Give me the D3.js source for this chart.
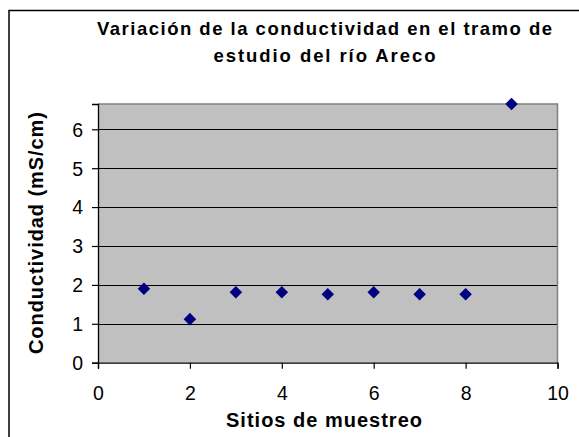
<!DOCTYPE html>
<html><head><meta charset="utf-8">
<script src="https://cdn.jsdelivr.net/npm/d3@7"></script>
<style>body{margin:0;background:#fff}svg{display:block}</style>
</head><body>
<script>
const sites = [1,2,3,4,5,6,7,8,9];
const conductivity = [1.90,1.12,1.81,1.81,1.76,1.81,1.76,1.76,6.65];
const xTicks = [0,2,4,6,8,10];
const yTicks = [0,1,2,3,4,5,6];
const titleLines = ["Variación de la conductividad en el tramo de","estudio del río Areco"];
const xLabel = "Sitios de muestreo";
const yLabel = "Conductividad (mS/cm)";

const W=579,H=437;
const svg=d3.select("body").append("svg").attr("width",W).attr("height",H);
const font="Liberation Sans, Arial, sans-serif";
const L=98,R=557.5,T=104,B=362.7;
const x=d3.scaleLinear().domain([0,10]).range([L,R]);
const y=d3.scaleLinear().domain([0,6.65]).range([B,T]);

// outer border (left, top)
svg.append("path").attr("d",`M9,${H} V10.5 H${W}`).attr("fill","none").attr("stroke","#000").attr("stroke-width",1.5);

svg.append("rect").attr("x",L).attr("y",T).attr("width",R-L).attr("height",B-T).attr("fill","#c0c0c0");
svg.append("g").selectAll("line").data(yTicks.filter(d=>d>0)).join("line")
 .attr("x1",L).attr("x2",R).attr("y1",d=>Math.round(y(d))+0.5).attr("y2",d=>Math.round(y(d))+0.5)
 .attr("stroke","#000").attr("stroke-width",1);
svg.append("path").attr("d",`M${L},${T} H${R} V${B}`).attr("fill","none").attr("stroke","#808080").attr("stroke-width",1.5);

const xAxis=svg.append("g").attr("transform",`translate(0,${B})`)
 .call(d3.axisBottom(x).tickValues(xTicks).tickFormat(d3.format("d")).tickSize(6).tickPadding(18));
const yAxis=svg.append("g").attr("transform",`translate(${L},0)`)
 .call(d3.axisLeft(y).tickValues(yTicks).tickFormat(d3.format("d")).tickSize(6).tickPadding(9));
[xAxis,yAxis].forEach(a=>{a.select(".domain").attr("stroke","#000").attr("stroke-width",1.3);
 a.selectAll(".tick line").attr("stroke","#000").attr("stroke-width",1.2);
 a.selectAll("text").attr("font-family",font).attr("font-size",19.5).attr("fill","#000");});
xAxis.selectAll("text").attr("dy",null).attr("y",37.5);
yAxis.selectAll("text").attr("dy","0.35em");

svg.append("g").selectAll("path").data(sites.map((s,i)=>[s,conductivity[i]])).join("path")
 .attr("d",d3.symbol(d3.symbolDiamond2,100)())
 .attr("transform",d=>`translate(${x(d[0])},${y(d[1])})`)
 .attr("fill","#000080");

const titleW=[455,222];
svg.append("g").selectAll("text").data(titleLines).join("text")
 .attr("x",(d,i)=>324.5-titleW[i]/2).attr("y",(d,i)=>34.5+i*27.3)
 .attr("textLength",(d,i)=>titleW[i]).attr("lengthAdjust","spacing")
 .attr("font-family",font).attr("font-weight","bold").attr("font-size",18.5).text(d=>d);

svg.append("text").attr("x",226).attr("y",426.7).attr("textLength",196).attr("lengthAdjust","spacing")
 .attr("font-family",font).attr("font-weight","bold").attr("font-size",20).text(xLabel);
svg.append("text").attr("transform",`translate(42.5,${234+120}) rotate(-90)`)
 .attr("textLength",242).attr("lengthAdjust","spacing")
 .attr("font-family",font).attr("font-weight","bold").attr("font-size",20).text(yLabel);
</script>
</body></html>
